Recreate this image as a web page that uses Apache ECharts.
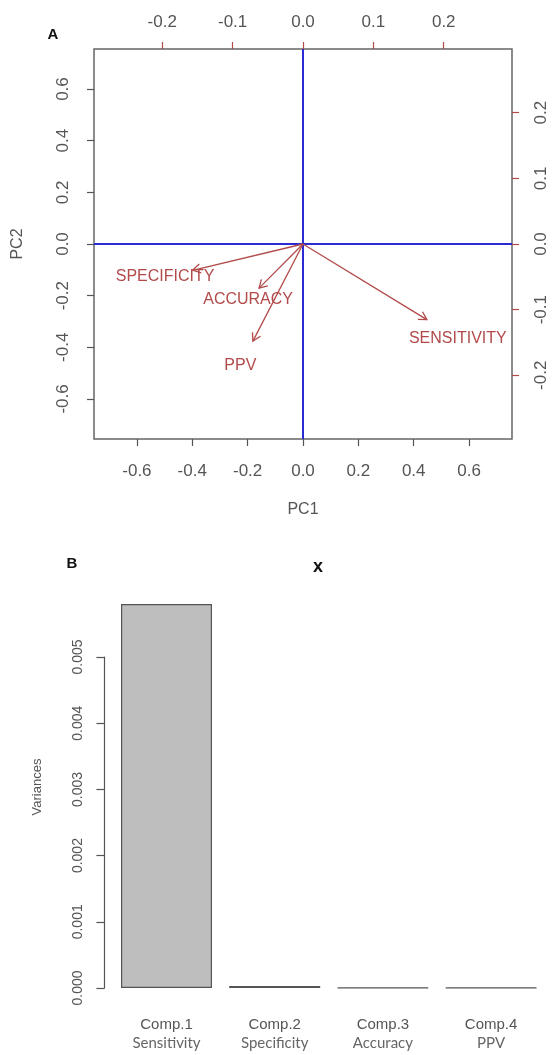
<!DOCTYPE html>
<html>
<head>
<meta charset="utf-8">
<script src="https://cdn.jsdelivr.net/npm/echarts@6/dist/echarts.min.js"></script>
<style>
html,body{margin:0;padding:0;background:#fff;}
#chart{width:552px;height:1055px;}
</style>
</head>
<body>
<div id="chart"></div>
<script>
// ---- Panel A: biplot data ----
const pcaVars = ['SENSITIVITY', 'SPECIFICITY', 'ACCURACY', 'PPV'];
const loadPC1 = [0.220, -0.196, -0.078, -0.089];
const loadPC2 = [-0.144, -0.050, -0.084, -0.185];
const scoreTicks = [-0.6, -0.4, -0.2, 0.0, 0.2, 0.4, 0.6];
const loadTicks = [-0.2, -0.1, 0.0, 0.1, 0.2];
const scoreLim = 0.755;
const loadLim = 0.297;

// ---- Panel B: variances ----
const comps = ['Comp.1', 'Comp.2', 'Comp.3', 'Comp.4'];
const compNames = ['Sensitivity', 'Specificity', 'Accuracy', 'PPV'];
const variances = [0.0058, 0.00003, 0.000004, 0.000003];
const varTicks = [0.000, 0.001, 0.002, 0.003, 0.004, 0.005];

const FONT = '"Liberation Sans", Arial, sans-serif';
const TXT = '#555';
const RED = '#b24a4a';
const BLUE = '#2b2bd4';

const chart = echarts.init(document.getElementById('chart'), null, {renderer: 'canvas'});

const fmt1 = v => (Math.abs(v) < 1e-9 ? 0 : v).toFixed(1);

const option = {
  animation: false,
  backgroundColor: '#fff',
  grid: [
    {left: 94, top: 49, width: 418, height: 390, show: true, borderColor: '#666', borderWidth: 1.5, backgroundColor: 'transparent'},
    {left: 112.4, top: 657, width: 432.8, height: 331}
  ],
  xAxis: [
    {gridIndex: 0, type: 'value', position: 'bottom', min: -scoreLim, max: scoreLim,
     axisLine: {show: false, onZero: false}, splitLine: {show: false},
     axisTick: {show: true, length: 7, customValues: scoreTicks, lineStyle: {color: '#555', width: 1.2}},
     axisLabel: {customValues: scoreTicks, formatter: fmt1, color: TXT, fontSize: 17, fontFamily: FONT, margin: 24}},
    {gridIndex: 0, type: 'value', position: 'top', min: -loadLim, max: loadLim,
     axisLine: {show: false, onZero: false}, splitLine: {show: false},
     axisTick: {show: true, length: 7, customValues: loadTicks, lineStyle: {color: RED, width: 1.2}},
     axisLabel: {customValues: loadTicks, formatter: fmt1, color: TXT, fontSize: 17, fontFamily: FONT, margin: 18}},
    {gridIndex: 1, type: 'category', data: comps,
     axisLine: {show: false, onZero: false}, axisTick: {show: false}, splitLine: {show: false},
     axisLabel: {margin: 28, interval: 0,
       formatter: (v, i) => '{a|' + v + '}\n{b|' + compNames[i] + '}',
       rich: {
         a: {fontSize: 15, fontFamily: FONT, color: '#555', lineHeight: 18},
         b: {fontSize: 15, fontFamily: 'Lato, sans-serif', color: '#666', lineHeight: 18}
       }}}
  ],
  yAxis: [
    {gridIndex: 0, type: 'value', position: 'left', min: -scoreLim, max: scoreLim,
     axisLine: {show: false, onZero: false}, splitLine: {show: false},
     axisTick: {show: true, length: 7, customValues: scoreTicks, lineStyle: {color: '#555', width: 1.2}},
     axisLabel: {customValues: scoreTicks, formatter: fmt1, rotate: 90, color: TXT, fontSize: 17, fontFamily: FONT, margin: 22}},
    {gridIndex: 0, type: 'value', position: 'right', min: -loadLim, max: loadLim,
     axisLine: {show: false, onZero: false}, splitLine: {show: false},
     axisTick: {show: true, length: 7, customValues: loadTicks, lineStyle: {color: RED, width: 1.2}},
     axisLabel: {customValues: loadTicks, formatter: fmt1, rotate: 90, color: TXT, fontSize: 17, fontFamily: FONT, margin: 21}},
    {gridIndex: 1, type: 'value', position: 'left', min: 0, max: 0.005, interval: 0.001, offset: 8,
     axisLine: {show: true, onZero: false, lineStyle: {color: '#555', width: 1.2}}, splitLine: {show: false},
     axisTick: {show: true, length: 8, lineStyle: {color: '#555', width: 1.2}},
     axisLabel: {formatter: v => v.toFixed(3), rotate: 90, color: TXT, fontSize: 14, fontFamily: FONT, margin: 19}}
  ],
  series: [
    {type: 'line', xAxisIndex: 0, yAxisIndex: 0, data: [], silent: true,
     markLine: {silent: true, symbol: ['none', 'none'], label: {show: false},
       lineStyle: {color: BLUE, width: 2, type: 'solid'},
       data: [{xAxis: 0}, {yAxis: 0}]}},
    {type: 'custom', xAxisIndex: 1, yAxisIndex: 1, silent: true, z: 5,
     data: loadPC1.map((v, i) => [v, loadPC2[i]]),
     renderItem: function (params, api) {
       const x = api.value(0), y = api.value(1);
       const o = api.coord([0, 0]);
       const t = api.coord([x * 0.8, y * 0.8]);
       const l = api.coord([x, y]);
       const ang = Math.atan2(t[1] - o[1], t[0] - o[0]);
       const L = 9, a = Math.PI / 6;
       const h1 = [t[0] - L * Math.cos(ang - a), t[1] - L * Math.sin(ang - a)];
       const h2 = [t[0] - L * Math.cos(ang + a), t[1] - L * Math.sin(ang + a)];
       return {type: 'group', children: [
         {type: 'line', shape: {x1: o[0], y1: o[1], x2: t[0], y2: t[1]}, style: {stroke: RED, lineWidth: 1.3}},
         {type: 'polyline', shape: {points: [h1, t, h2]}, style: {stroke: RED, fill: 'none', lineWidth: 1.3}},
         {type: 'text', x: l[0], y: l[1], style: {text: pcaVars[params.dataIndex], align: 'center', verticalAlign: 'middle',
           font: '16px ' + FONT, fill: RED}}
       ]};
     }},
    {type: 'bar', xAxisIndex: 2, yAxisIndex: 2, data: variances, barWidth: 91, clip: false,
     itemStyle: {color: '#bebebe', borderColor: '#555', borderWidth: 1.2}}
  ],
  graphic: [
    {type: 'text', x: 53, y: 35, style: {text: 'A', font: 'bold 15px ' + FONT, fill: '#111', align: 'center', verticalAlign: 'middle'}},
    {type: 'text', x: 303, y: 510, style: {text: 'PC1', font: '16px ' + FONT, fill: TXT, align: 'center', verticalAlign: 'middle'}},
    {type: 'text', x: 18, y: 244, rotation: Math.PI / 2, style: {text: 'PC2', font: '16px ' + FONT, fill: TXT, align: 'center', verticalAlign: 'middle'}},
    {type: 'text', x: 72, y: 564, style: {text: 'B', font: 'bold 15px ' + FONT, fill: '#111', align: 'center', verticalAlign: 'middle'}},
    {type: 'text', x: 318, y: 567, style: {text: 'x', font: 'bold 18px ' + FONT, fill: '#111', align: 'center', verticalAlign: 'middle'}},
    {type: 'text', x: 37, y: 787, rotation: Math.PI / 2, style: {text: 'Variances', font: '13px ' + FONT, fill: TXT, align: 'center', verticalAlign: 'middle'}}
  ]
};
chart.setOption(option);
</script>
</body>
</html>
